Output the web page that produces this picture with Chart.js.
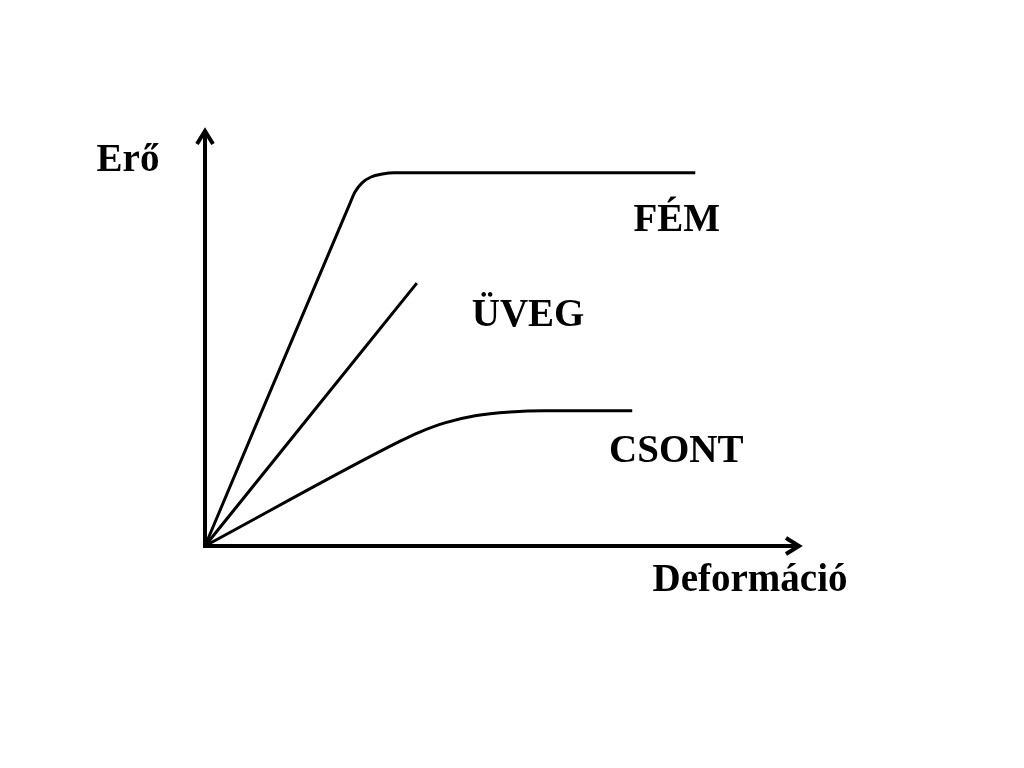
<!DOCTYPE html>
<html>
<head>
<meta charset="utf-8">
<script src="https://cdn.jsdelivr.net/npm/chart.js@4"></script>
<style>
  html, body { margin: 0; padding: 0; background: #fff; }
  #wrap { width: 1024px; height: 768px; }
</style>
</head>
<body>
<div id="wrap"><canvas id="chart" width="1024" height="768"></canvas></div>
<script>
// curves (x = deformáció, y = erő, 0..100)
const femX = [0, 24.4, 25.2, 26.4, 27.9, 29.8, 31.9, 82.4];
const femY = [0, 82.5, 85.1, 87.3, 88.7, 89.4, 89.7, 89.7];
const uvegX = [0, 35.6];
const uvegY = [0, 63.2];
const csontX = [0, 32.8, 36.1, 40.3, 45.4, 51.3, 57.1, 71.8];
const csontY = [0, 25.2, 27.4, 29.6, 31.3, 32.2, 32.5, 32.5];

const curveNames = ['FÉM', 'ÜVEG', 'CSONT'];
const axisTitles = ['Deformáció', 'Erő'];

function pts(xs, ys) {
    return xs.map((x, i) => ({ x: x, y: ys[i] }));
}

function dataset(label, xs, ys) {
    return {
        label: label,
        data: pts(xs, ys),
        borderColor: '#000',
        borderWidth: 3,
        pointRadius: 0,
        fill: false,
        cubicInterpolationMode: 'monotone',
        clip: false
    };
}

const FONT = 'bold 39px "Liberation Serif", "DejaVu Serif", serif';

// axes with arrow heads and the text labels
const decorPlugin = {
    id: 'decor',
    afterDatasetsDraw(chart) {
        const ctx = chart.ctx;
        const xs = chart.scales.x, ys = chart.scales.y;
        const ox = xs.getPixelForValue(0), oy = ys.getPixelForValue(0);
        const xEnd = xs.getPixelForValue(100), yEnd = ys.getPixelForValue(100);

        ctx.save();
        ctx.strokeStyle = '#000';
        ctx.lineWidth = 4;
        ctx.lineCap = 'butt';
        ctx.beginPath();
        ctx.moveTo(ox, oy + 2);
        ctx.lineTo(ox, yEnd + 1);
        ctx.moveTo(ox - 2, oy);
        ctx.lineTo(xEnd - 1, oy);
        ctx.stroke();

        // arrow heads
        ctx.lineWidth = 4;
        ctx.lineJoin = 'miter';
        ctx.beginPath();
        ctx.moveTo(ox - 8, yEnd + 14);
        ctx.lineTo(ox, yEnd + 1);
        ctx.lineTo(ox + 8, yEnd + 14);
        ctx.moveTo(xEnd - 14, oy - 8);
        ctx.lineTo(xEnd - 1, oy);
        ctx.lineTo(xEnd - 14, oy + 8);
        ctx.stroke();

        ctx.fillStyle = '#000';
        ctx.font = FONT;
        ctx.textAlign = 'center';
        ctx.textBaseline = 'alphabetic';
        ctx.fillText(axisTitles[1], ox - 77, yEnd + 41);
        ctx.fillText(axisTitles[0], xs.getPixelForValue(91.6), oy + 45);
        ctx.fillText(curveNames[0], xs.getPixelForValue(79.3), ys.getPixelForValue(75.7));
        ctx.fillText(curveNames[1], xs.getPixelForValue(54.3), ys.getPixelForValue(52.9));
        ctx.fillText(curveNames[2], xs.getPixelForValue(79.2), ys.getPixelForValue(20.2));
        ctx.restore();
    }
};

new Chart(document.getElementById('chart').getContext('2d'), {
    type: 'line',
    data: {
        datasets: [
            dataset(curveNames[0], femX, femY),
            dataset(curveNames[1], uvegX, uvegY),
            dataset(curveNames[2], csontX, csontY)
        ]
    },
    options: {
        responsive: false,
        animation: false,
        layout: { padding: { left: 205, right: 224, top: 130, bottom: 222 } },
        plugins: {
            legend: { display: false },
            tooltip: { enabled: false }
        },
        scales: {
            x: { type: 'linear', min: 0, max: 100, display: false },
            y: { type: 'linear', min: 0, max: 100, display: false }
        }
    },
    plugins: [decorPlugin]
});
</script>
</body>
</html>
